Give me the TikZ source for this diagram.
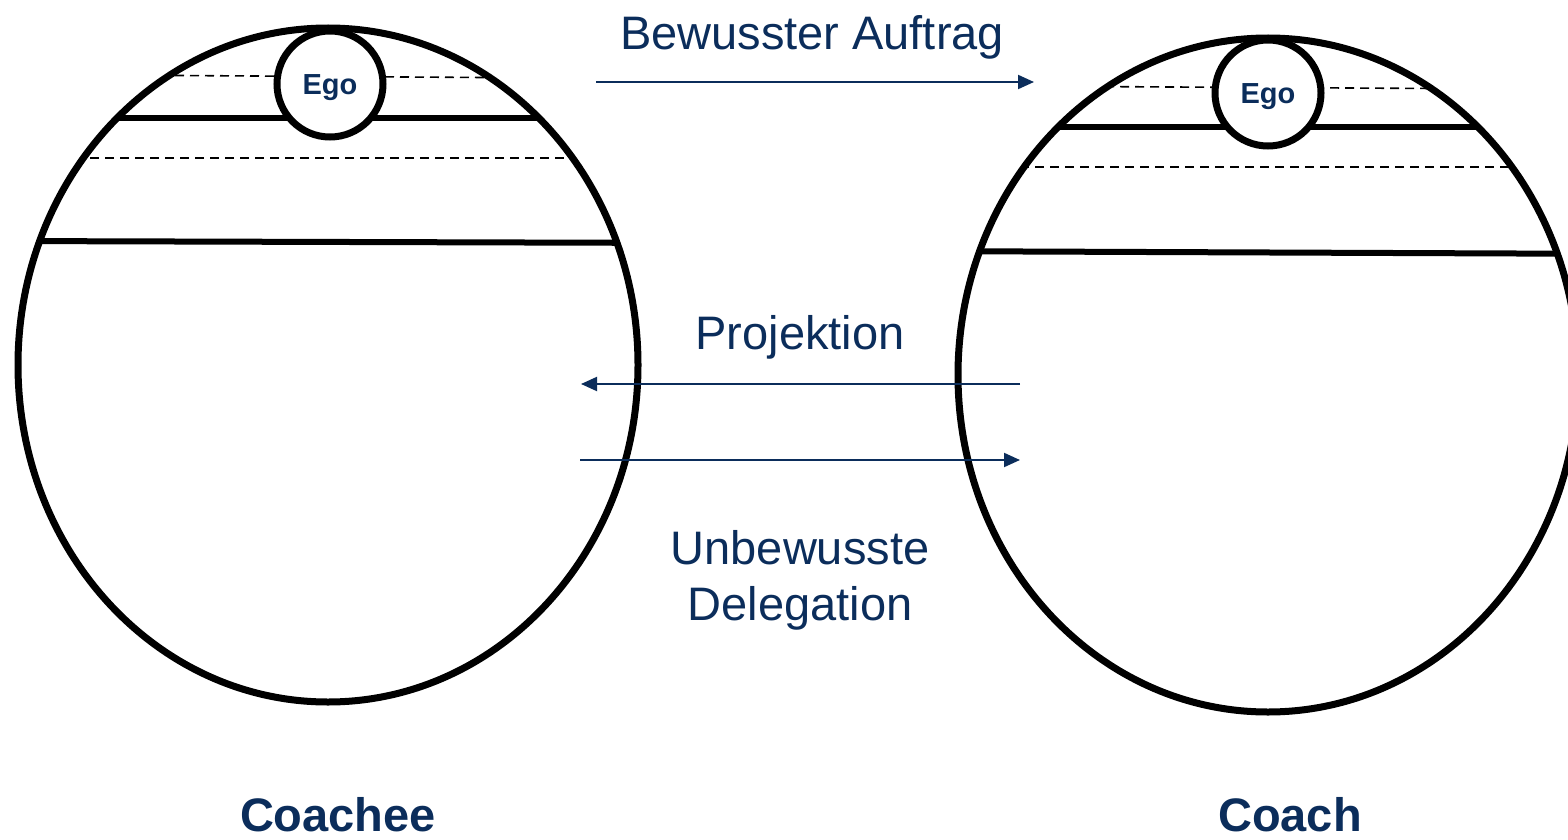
\documentclass[tikz,border=0pt]{standalone}
\usepackage{fontspec}
\setmainfont{Liberation Sans}
\usetikzlibrary{arrows.meta}
\definecolor{navy}{HTML}{0B2D5B}

\begin{document}
\begin{tikzpicture}[x=1pt,y=-1pt,
  psyche/.style={line width=7pt},
  layer/.style={line width=6pt},
  limen/.style={line width=1.6pt,dash pattern=on 9pt off 6pt},
  ego/.style={circle,draw,line width=7pt,fill=white,minimum size=106pt,inner sep=0pt,
    text height=28pt,text depth=6pt,text=navy,font=\bfseries\fontsize{29}{33}\selectfont},
  flow/.style={navy,line width=2pt,-{Triangle[length=16pt,width=14pt]}},
  caption/.style={text=navy,font=\fontsize{47}{56}\selectfont,align=center},
  person/.style={text=navy,font=\bfseries\fontsize{47}{56}\selectfont}]
 \useasboundingbox (0,0) rectangle (1568,840);
 % Coachee
 \begin{scope}
  \clip (328,365) ellipse[x radius=310, y radius=337];
  \draw[limen] (100,75) -- (560,78);
  \draw[layer] (0,118) -- (700,118);
  \draw[limen] (0,158) -- (700,158);
  \draw[layer] (0,241) -- (700,243);
 \end{scope}
 \node[ego](egoL) at (330,84){Ego};
 \draw[psyche] (328,365) ellipse[x radius=310, y radius=337];
 % Coach
 \begin{scope}
  \clip (1268,375) ellipse[x radius=310, y radius=337];
  \draw[limen] (1000,86) -- (1520,89);
  \draw[layer] (900,127) -- (1640,127);
  \draw[limen] (900,167) -- (1640,167);
  \draw[layer] (900,251) -- (1640,254);
 \end{scope}
 \node[ego](egoR) at (1268,93){Ego};
 \draw[psyche] (1268,375) ellipse[x radius=310, y radius=337];
 % arrows
 \coordinate (auftragA) at (596,82);
 \coordinate (auftragB) at (1034,82);
 \coordinate (projA) at (1020,384);
 \coordinate (projB) at (581,384);
 \coordinate (delA) at (580,460);
 \coordinate (delB) at (1020,460);
 \draw[flow](auftragA)--(auftragB);
 \draw[flow](projA)--(projB);
 \draw[flow](delA)--(delB);
 \node[caption](auftrag) at (812,37){Bewusster Auftrag};
 \node[caption](proj) at (800,337){Projektion};
 \node[caption](deleg) at (800,580){Unbewusste\\Delegation};
 \node[person](coachee) at (338,815){Coachee};
 \node[person](coach) at (1290,815){Coach};
\end{tikzpicture}
\end{document}
